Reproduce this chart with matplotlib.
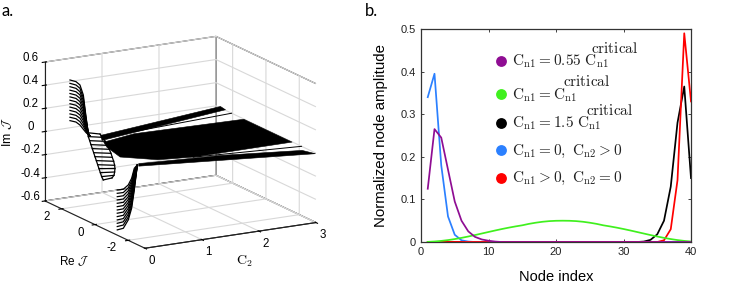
import numpy as np
import matplotlib
matplotlib.use("Agg")
import matplotlib.pyplot as plt
from mpl_toolkits.mplot3d.art3d import Poly3DCollection

W, H = 748, 287
plt.rcParams['font.family'] = ['Liberation Sans', 'DejaVu Sans']
plt.rcParams['mathtext.fontset'] = 'cm'
plt.rcParams['grid.color'] = '#d8d8d8'
plt.rcParams['grid.linewidth'] = 0.8
plt.rcParams['axes.linewidth'] = 0.8

# ---------- panel a data: C2, Re J, Im J ----------
tail_a_c2 = [0.0, 0.105, 0.175, 0.234, 0.281, 0.322, 0.351]
tail_a_re = 1.5
tail_a_im = [
    [.547,.518,.489,.459,.430,.401,.372,.342,.313,.284,.254,.225,.196],
    [.525,.496,.467,.438,.409,.380,.351,.321,.292,.263,.234,.205,.176],
    [.491,.462,.433,.405,.376,.347,.318,.289,.260,.232,.203,.174,.145],
    [.400,.375,.351,.326,.301,.277,.252,.227,.202,.178,.153,.129,.104],
    [.210,.198,.187,.175,.164,.152,.141,.129,.118,.106,.095,.083,.072],
    [.063,.062,.061,.060,.059,.058,.058,.057,.056,.055,.054,.053,.052],
    [.037,.037,.037,.037,.037,.037,.037,.037,.037,.037,.037,.037,.037],
]
tail_b_re = 0.5
tail_b_c2_left = [.012,.029,.053,.076,.099,.123,.146,.170,.193,.216,.240,.263,.292]
tail_b_im_left = [.159,.124,.087,.051,.015,-.022,-.058,-.094,-.131,-.166,-.203,-.239,-.270]
tail_b_c2_right = [.234,.281,.327,.363,.398,.427,.450,.474,.491,.497,.491,.480,.444]
tail_b_im_right = [.131,.099,.061,.024,-.013,-.050,-.086,-.122,-.158,-.187,-.216,-.244,-.264]
tail_c_c2 = [.099, .205, .292, .351, .398, .450]
tail_c_re = -1.0
tail_c_im = [
    [-.240,-.269,-.298,-.326,-.355,-.384,-.413,-.441,-.470,-.499,-.528,-.556,-.585],
    [-.242,-.270,-.298,-.326,-.355,-.383,-.411,-.439,-.467,-.495,-.523,-.551,-.579],
    [-.211,-.236,-.261,-.287,-.312,-.337,-.362,-.387,-.412,-.438,-.463,-.488,-.513],
    [-.158,-.180,-.201,-.223,-.244,-.266,-.288,-.309,-.331,-.352,-.374,-.395,-.417],
    [-.075,-.091,-.106,-.122,-.137,-.153,-.169,-.184,-.200,-.215,-.231,-.246,-.262],
    [-.050,-.051,-.051,-.052,-.052,-.053,-.053,-.053,-.054,-.054,-.055,-.055,-.056],
]
ribbon_top_c2 = [.634, .517, 3.0, 3.0]
ribbon_top_re = [1.87, 1.37, 2.46, 2.76]
ribbon_top_im = [0.0, 0.0, .007, .015]
ribbon_mid_c2 = [.49, 1.13, 3.0, 3.0, 1.27, .71, .29, .39]
ribbon_mid_re = [1.18, 1.55, 1.36, -1.54, -1.56, -1.29, -.49, .65]
ribbon_mid_im = [0, 0, 0, 0, 0, 0, 0, 0]
ribbon_low_c2 = [.35, 1.67, 3.0, 3.0, .28]
ribbon_low_re = [-1.4, -1.79, -2.14, -2.94, -1.64]
ribbon_low_im = [0, 0, -.031, -.005, 0]
thin_up_c2 = [1.17, 3.0]
thin_up_re = [1.7, 2.06]
thin_low_c2 = [1.25, 3.0]
thin_low_re = [-1.62, -2.14]

x3_ticks = [0, 1, 2, 3]
y3_ticks = [-2, 0, 2]
z3_ticks = [-.6, -.4, -.2, 0, .2, .4, .6]
z3_labels = ['-0.6', '-0.4', '-0.2', '0', '0.2', '0.4', '0.6']

# ---------- panel b data ----------
node = list(range(1, 41))
purple = [.125,.265,.245,.17,.095,.05,.025,.012,.006,.003,.001] + [0]*29
blue = [.34,.395,.18,.06,.017,.004,.001] + [0]*33
black = [0]*32 + [.001,.005,.018,.05,.13,.28,.365,.15]
red = [0]*35 + [.004,.03,.145,.49,.33]
green = [.0003,.0012,.0026,.0045,.0069,.0097,.0129,.0163,.0199,.0235,.0271,.0305,.0337,
         .0366,.0392,.0426,.0453,.0475,.0490,.0498,.0500,.0498,.0490,.0475,.0453,.0426,
         .0392,.0366,.0337,.0305,.0271,.0235,.0199,.0163,.0129,.0097,.0069,.0045,.0026,.0012]
colors = {'black': 'black', 'blue': '#2b80ff', 'red': '#ff0000', 'green': '#40f01e', 'purple': '#8f0d93'}
legend_y = [.425, .347, .279, .216, .151]
legend_colors = ['#8f0d93', '#40f01e', 'black', '#2b80ff', '#ff0000']
legend_text = [r'$\mathrm{C_{n1}{=}0.55\ C_{n1}}$', r'$\mathrm{C_{n1}{=}C_{n1}}$',
               r'$\mathrm{C_{n1}{=}1.5\ C_{n1}}$', r'$\mathrm{C_{n1}{=}0,\ C_{n2}{>}0}$',
               r'$\mathrm{C_{n1}{>}0,\ C_{n2}{=}0}$']
legend_base = [.414, .336, .268, .205, .140]
crit_x = [25.2, 21.07, 24.47]
crit_y = [.444, .366, .298]

fig = plt.figure(figsize=(W/100, H/100), dpi=100)

# ---------- panel a ----------
S = 300
ax = fig.add_axes([26.4/W, -9.35/H, S/W, S/H], projection='3d', proj_type='ortho')
ax.set_box_aspect((589, 611, 432.6), zoom=1.027)
ax.view_init(elev=15.46, azim=-119.4)
ax.set_xlim(0, 3, view_margin=0)
ax.set_ylim(-3, 3, view_margin=0)
ax.set_zlim(-.6, .6, view_margin=0)
ax.patch.set_alpha(0)
for a in (ax.xaxis, ax.yaxis, ax.zaxis):
    a.set_pane_color((1, 1, 1, 1))
    a.pane.set_edgecolor('#222222')
    a.pane.set_linewidth(0.8)
    a.line.set_color('#222222')
    a.line.set_linewidth(0.8)
ax.set_xticks(x3_ticks)
ax.set_yticks(y3_ticks)
ax.set_zticks(z3_ticks)
ax.set_xticklabels([str(v) for v in x3_ticks], fontsize=8.3, ha='left')
ax.set_yticklabels([str(v) for v in y3_ticks], fontsize=8.3, ha='right', va='baseline')
ax.set_zticklabels(z3_labels, fontsize=8.3, va='baseline')
ax.tick_params(axis='x', pad=-4)
ax.tick_params(axis='y', pad=-0.5)
ax.tick_params(axis='z', pad=-2)
ax.zaxis.set_ticks_position('upper')

lw3 = 0.9
for row in np.array(tail_a_im).T:
    ax.plot(tail_a_c2, [tail_a_re]*len(tail_a_c2), row, color='k', lw=lw3)
for row in np.array(tail_c_im).T:
    ax.plot(tail_c_c2, [tail_c_re]*len(tail_c_c2), row, color='k', lw=lw3)
for c0, c1, i0, i1 in zip(tail_b_c2_left, tail_b_c2_right, tail_b_im_left, tail_b_im_right):
    ax.plot([c0, c1], [tail_b_re]*2, [i0, i1], color='k', lw=lw3)
ax.plot(tail_b_c2_right, [tail_b_re]*13, tail_b_im_right, color='k', lw=lw3)
ax.plot(tail_b_c2_left, [tail_b_re]*13, tail_b_im_left, color='k', lw=lw3)
for c, r, i in [(ribbon_top_c2, ribbon_top_re, ribbon_top_im),
                (ribbon_mid_c2, ribbon_mid_re, ribbon_mid_im),
                (ribbon_low_c2, ribbon_low_re, ribbon_low_im)]:
    ax.add_collection3d(Poly3DCollection([list(zip(c, r, i))], facecolor='k', edgecolor='k', linewidth=0.4))
ax.plot(thin_up_c2, thin_up_re, [0, 0], color='k', lw=0.7)
ax.plot(thin_low_c2, thin_low_re, [0, 0], color='k', lw=0.7)

fig.text(245/W, (H-261.5)/H, r'$\mathrm{C_2}$', fontsize=10, ha='center', va='center')
fig.text(74/W, (H-261)/H, r'Re $\mathcal{J}$', fontsize=8.5, ha='center', va='center')
fig.text(7/W, (H-132)/H, r'Im $\mathcal{J}$', fontsize=9, ha='center', va='center', rotation=90)

# ---------- panel b ----------
bx = fig.add_axes([421/W, (H-242)/H, 270/W, 213/H])
for y, c, z in [(black, 'black', 2), (blue, 'blue', 3), (red, 'red', 3), (green, 'green', 4), (purple, 'purple', 5)]:
    bx.plot(node, y, color=colors[c], lw=1.25, zorder=z, clip_on=True)
bx.set_xlim(0, 40)
bx.set_ylim(0, .5)
bx.set_xticks([0, 10, 20, 30, 40])
bx.set_yticks([0, .1, .2, .3, .4, .5])
bx.set_xticklabels(['0', '10', '20', '30', '40'])
bx.set_yticklabels(['0', '0.1', '0.2', '0.3', '0.4', '0.5'])
bx.tick_params(direction='in', top=True, right=True, length=2.2, width=.6, labelsize=8, pad=3.5, colors='#222222')
for s in bx.spines.values():
    s.set_color('#333333')
    s.set_linewidth(.9)
bx.set_xlabel('Node index', fontsize=10.5, labelpad=9.5)
bx.set_ylabel('Normalized node amplitude', fontsize=10.8, labelpad=9)
for y, c, t, b in zip(legend_y, legend_colors, legend_text, legend_base):
    bx.plot([11.9], [y], 'o', color=c, ms=7.8, mew=0, zorder=6)
    bx.text(13.5, b, t, fontsize=11, va='baseline', ha='left', color='#222222')
for x, y in zip(crit_x, crit_y):
    bx.text(x, y, r'$\mathrm{critical}$', fontsize=11, va='baseline', ha='left', color='#222222')

lab = ['Lato', 'DejaVu Sans']
fig.text(2/W, (H-11)/H, 'a.', fontsize=12, family=lab, va='center', ha='left')
fig.text(365/W, (H-11)/H, 'b.', fontsize=12, family=lab, va='center', ha='left')

fig.savefig('out.png', dpi=100)
